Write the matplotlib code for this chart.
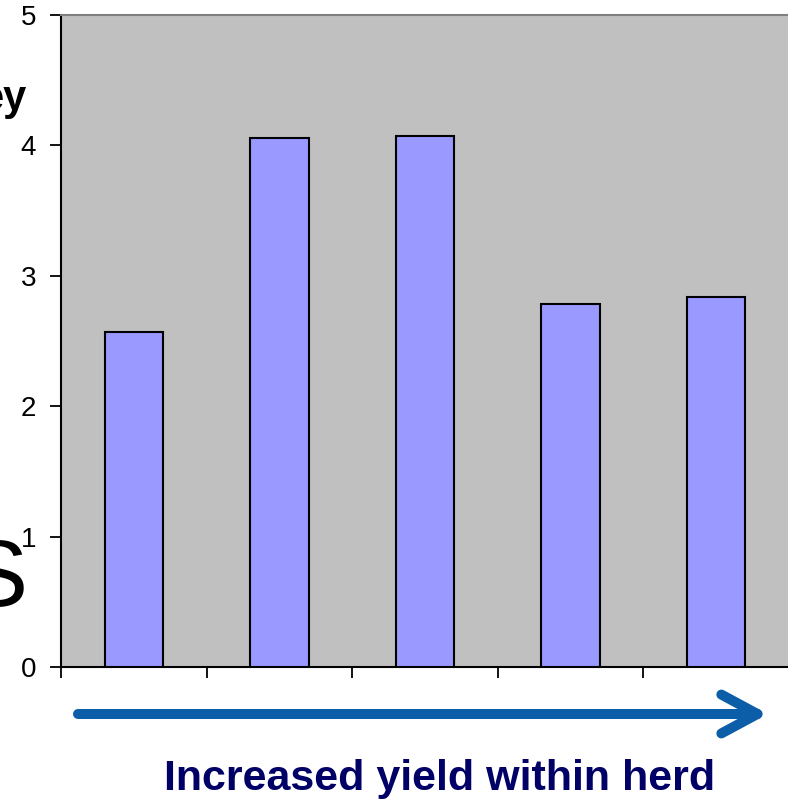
import matplotlib
matplotlib.use("Agg")
import matplotlib.pyplot as plt
from matplotlib.patches import FancyArrowPatch
import numpy as np

# bar values
groups = np.arange(5)
values = [2.57, 4.06, 4.07, 2.78, 2.84]
yticks = [0, 1, 2, 3, 4, 5]
xlabel = "Increased yield within herd"

plt.rcParams['font.family'] = ['Liberation Sans', 'DejaVu Sans']

fig = plt.figure(figsize=(7.88, 8), dpi=100)
W, H = 788, 800
ax = fig.add_axes([61 / W, 1 - 667 / H, (789 - 61) / W, (667 - 15) / H])
ax.set_facecolor('#C0C0C0')

ax.bar(groups + 0.5, values, width=0.4, color='#9999FF', edgecolor='black', linewidth=1.5, zorder=3)

ax.set_xlim(0, 5)
ax.set_ylim(0, 5)
ax.set_yticks(yticks)
ax.set_xticks(np.arange(0, 6))
ax.set_xticklabels([])
ax.tick_params(axis='y', direction='out', length=8, width=1.3, labelsize=20, pad=10)
ax.tick_params(axis='x', direction='out', length=8, width=1.3)

ax.spines['left'].set_linewidth(1.5)
ax.spines['bottom'].set_linewidth(1.5)
ax.spines['top'].set_color('#808080')
ax.spines['top'].set_linewidth(1.5)
ax.spines['right'].set_visible(False)

# blue arrow below the axis
arrow = FancyArrowPatch((78 / W, 1 - 714 / H), (768 / W, 1 - 714 / H),
                        transform=fig.transFigure,
                        arrowstyle='->,head_length=1.3,head_width=0.7',
                        mutation_scale=20, color='#0D5EA8', lw=7.2,
                        capstyle='round', joinstyle='round',
                        shrinkA=0, shrinkB=0)
fig.add_artist(arrow)

fig.text(440 / W, 1 - 779 / H, xlabel, ha='center', va='center',
         fontsize=31, fontweight='bold', color='#000066')

# cropped pieces of surrounding slide text
fig.text(27 / W, 1 - 110 / H, "ey", ha='right', va='baseline',
         fontsize=30, fontweight='bold', color='black')
fig.text(28 / W, 1 - 606 / H, "S", ha='right', va='baseline',
         fontsize=68, color='black')

fig.savefig("out.png", dpi=100)
